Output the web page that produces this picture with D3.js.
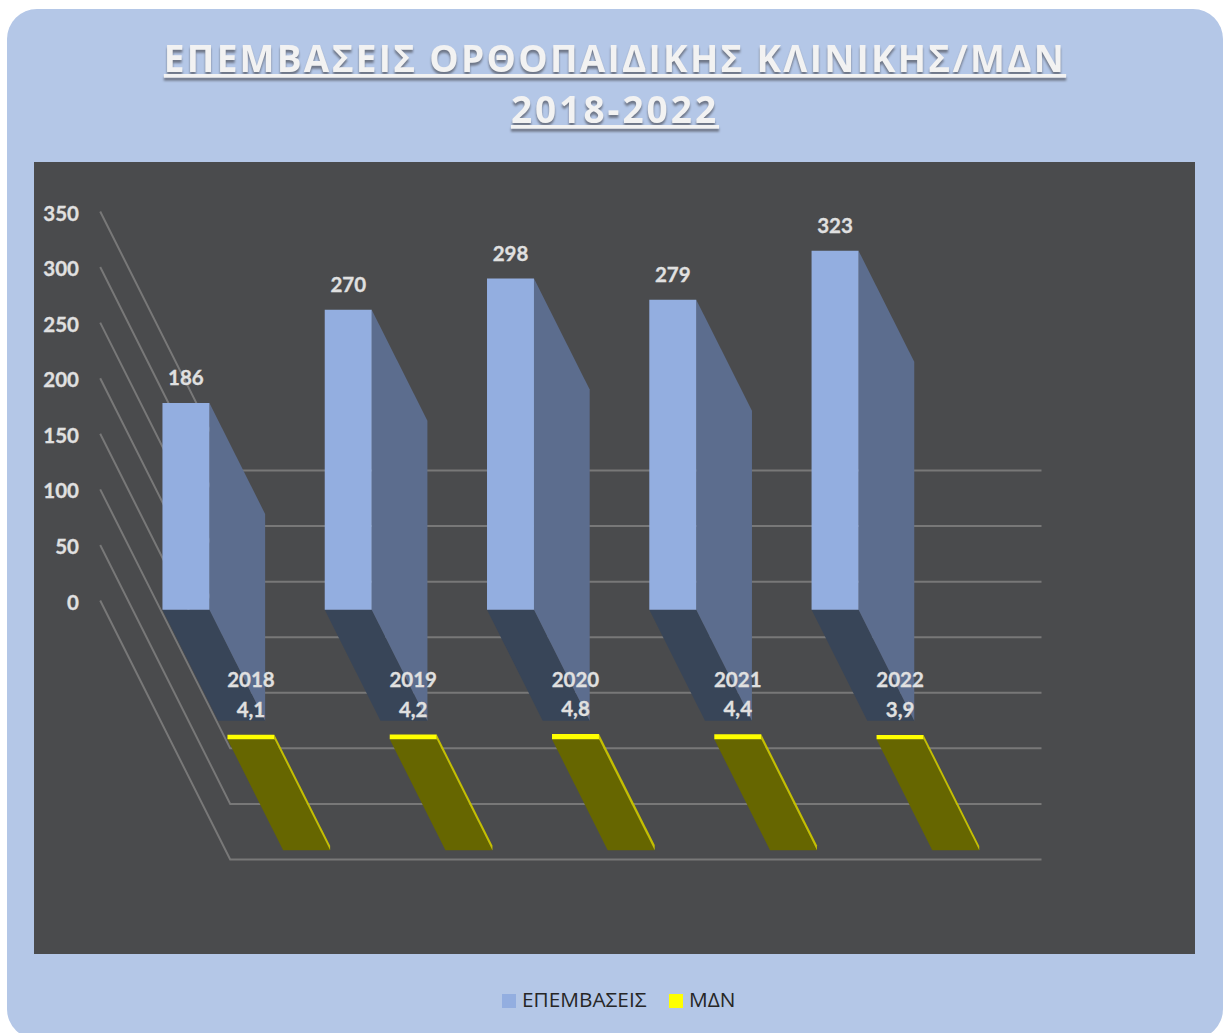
<!DOCTYPE html>
<html>
<head>
  <meta charset="utf-8">
  <title>ΕΠΕΜΒΑΣΕΙΣ ΟΡΘΟΠΑΙΔΙΚΗΣ ΚΛΙΝΙΚΗΣ/ΜΔΝ</title>
  <script src="https://cdn.jsdelivr.net/npm/d3@7.0.0/dist/d3.min.js"></script>
  <style>
    html, body { margin: 0; padding: 0; background: #fff; overflow: hidden; }
    svg { display: block; }
    text { font-family: "Open Sans", "Noto Sans", sans-serif; }
    .num { font-family: Lato, "Open Sans", sans-serif; font-size: 20.5px; font-weight: 700; stroke: #e0e0e0; stroke-width: 0.3px; }
  </style>
</head>
<body>
  <div id="chart"></div>
  <script>
    // Chart data
    var years = ["2018", "2019", "2020", "2021", "2022"];
    var surgeries = [186, 270, 298, 279, 323];
    var stay = [4.1, 4.2, 4.8, 4.4, 3.9];
    var seriesNames = ["ΕΠΕΜΒΑΣΕΙΣ", "ΜΔΝ"];
    var titleLines = ["ΕΠΕΜΒΑΣΕΙΣ ΟΡΘΟΠΑΙΔΙΚΗΣ ΚΛΙΝΙΚΗΣ/ΜΔΝ", "2018-2022"];
    var valueTicks = [0, 50, 100, 150, 200, 250, 300, 350];

    var width = 1223, height = 1033;

    var svg = d3.select("#chart").append("svg")
      .attr("width", width)
      .attr("height", height);

    // Panel and plot background
    svg.append("rect")
      .attr("x", 7).attr("y", 9)
      .attr("width", 1216).attr("height", 1030)
      .attr("rx", 30)
      .attr("fill", "#b4c7e7");

    svg.append("rect")
      .attr("x", 34).attr("y", 162)
      .attr("width", 1161).attr("height", 792)
      .attr("fill", "#4a4b4d");

    // Title
    svg.selectAll(".title")
      .data(titleLines)
      .enter().append("text")
      .attr("class", "title")
      .attr("x", 615)
      .attr("y", function(d, i) { return i == 0 ? 72 : 123; })
      .attr("text-anchor", "middle")
      .attr("fill", "#f2f2f2")
      .style("font-size", "37px")
      .style("font-weight", "700")
      .style("letter-spacing", function(d, i) { return i == 0 ? "2.25px" : "3px"; })
      .style("text-decoration", "underline")
      .style("filter", "drop-shadow(0px 3px 1px #6f7788)")
      .text(function(d) { return d; });

    // Scales: x across the categories, y for values, depth for the two series
    var x = d3.scaleBand().domain(years).range([100.2, 911.5])
      .paddingInner(0.7106).paddingOuter(0.355);
    var y = d3.scaleLinear().domain([0, 350]).range([600.5, 211.5]);
    var depth = d3.scaleBand().domain(seriesNames).range([0, 259])
      .paddingInner(1 / 7).paddingOuter(1 / 14);

    // Oblique projection, a depth step moves right and down
    var shear = 130 / 259;
    function project(px, value, z) {
      return [px + z * shear, y(value) + z];
    }

    // Side wall and floor lines
    var gridLine = d3.line();
    svg.append("g").selectAll("path")
      .data(valueTicks)
      .enter().append("path")
      .attr("d", function(v) {
        return gridLine([
          project(x.range()[0], v, 0),
          project(x.range()[0], v, 259),
          project(x.range()[1], v, 259)
        ]);
      })
      .attr("fill", "none")
      .attr("stroke", "#787878")
      .attr("stroke-width", 2);

    // Value axis
    var axis = svg.append("g")
      .attr("transform", "translate(100,2)")
      .call(d3.axisLeft(y).tickValues(valueTicks).tickSize(0).tickPadding(21));
    axis.select(".domain").remove();
    axis.selectAll("text")
      .attr("class", "num")
      .attr("fill", "#e0e0e0");

    function poly(points) {
      return points.map(function(p) { return p.join(","); }).join(" ");
    }

    // Draws one series as oblique boxes
    function drawBoxes(name, values, colors) {
      var z0 = depth(name), z1 = z0 + depth.bandwidth();
      var g = svg.append("g");
      years.forEach(function(year, i) {
        var x0 = x(year), x1 = x0 + x.bandwidth(), v = values[i];
        // underside
        g.append("polygon")
          .attr("points", poly([project(x0, 0, z0), project(x1, 0, z0), project(x1, 0, z1), project(x0, 0, z1)]))
          .attr("fill", colors.bottom);
        // right side
        g.append("polygon")
          .attr("points", poly([project(x1, v, z0), project(x1, v, z1), project(x1, 0, z1), project(x1, 0, z0)]))
          .attr("fill", colors.side);
        // front
        g.append("polygon")
          .attr("points", poly([project(x0, v, z0), project(x1, v, z0), project(x1, 0, z0), project(x0, 0, z0)]))
          .attr("fill", colors.front);
      });
    }

    drawBoxes(seriesNames[0], surgeries, { front: "#93aee0", side: "#5c6d8e", bottom: "#384558" });
    drawBoxes(seriesNames[1], stay, { front: "#ffff00", side: "#c4bf00", bottom: "#666600" });

    // Value labels above the front face
    function drawLabels(name, values, format) {
      svg.append("g").selectAll("text")
        .data(values)
        .enter().append("text")
        .attr("class", "num")
        .attr("x", function(d, i) { return project(x(years[i]) + x.bandwidth() / 2, d, depth(name))[0]; })
        .attr("y", function(d) { return project(0, d, depth(name))[1] - 18; })
        .attr("text-anchor", "middle")
        .attr("fill", "#e0e0e0")
        .text(format);
    }

    drawLabels(seriesNames[0], surgeries, function(d) { return d; });
    drawLabels(seriesNames[1], stay, function(d) { return String(d).replace(".", ","); });

    // Year labels
    svg.append("g").selectAll("text")
      .data(years)
      .enter().append("text")
      .attr("class", "num")
      .attr("x", function(d) { return project(x(d) + x.bandwidth() / 2, 0, depth(seriesNames[1]))[0]; })
      .attr("y", 687)
      .attr("text-anchor", "middle")
      .attr("fill", "#e0e0e0")
      .text(function(d) { return d; });

    // Legend
    var legendX = [502, 669];
    var legendColors = ["#93aee0", "#ffff00"];
    var legend = svg.append("g").selectAll("g")
      .data(seriesNames)
      .enter().append("g")
      .attr("transform", function(d, i) { return "translate(" + legendX[i] + ",994)"; });
    legend.append("rect")
      .attr("width", 14).attr("height", 14)
      .attr("fill", function(d, i) { return legendColors[i]; });
    legend.append("text")
      .attr("x", 20).attr("y", 13)
      .attr("fill", "#262626")
      .style("font-size", "20.8px")
      .text(function(d) { return d; });
  </script>
</body>
</html>
